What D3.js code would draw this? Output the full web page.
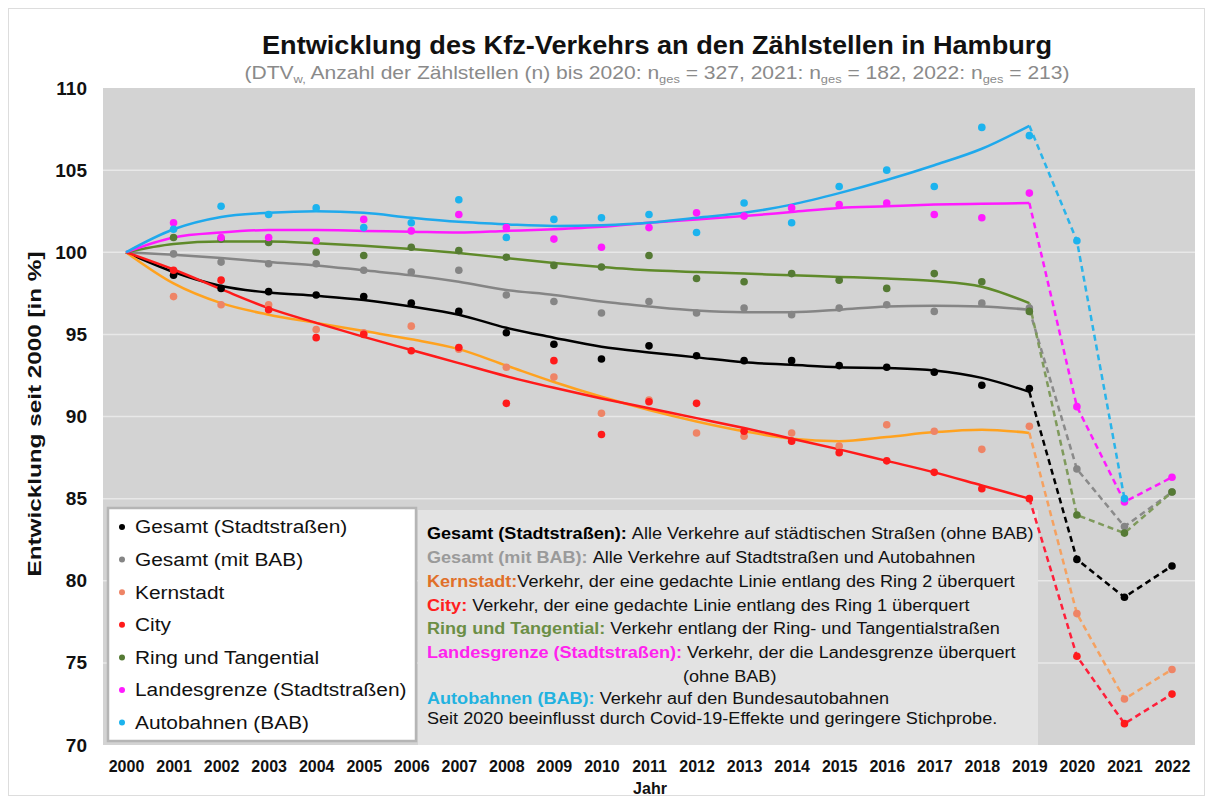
<!DOCTYPE html>
<html>
<head>
<meta charset="utf-8">
<script src="https://cdn.jsdelivr.net/npm/d3@7"></script>
<style>
  body { margin: 0; background: #fff; }
  svg text { font-family: "Liberation Sans", Arial, sans-serif; }
</style>
</head>
<body>
<div id="viz"></div>
<script>
const width = 1215;
const height = 803;

// years on the axis
const years = [2000, 2001, 2002, 2003, 2004, 2005, 2006, 2007, 2008, 2009, 2010,
  2011, 2012, 2013, 2014, 2015, 2016, 2017, 2018, 2019, 2020, 2021, 2022];
const yTicks = [70, 75, 80, 85, 90, 95, 100, 105, 110];

// measured values 2001..2022 (dots)
const pointYears = years.slice(1);
const gesamtStadt = [98.6, 97.8, 97.6, 97.4, 97.3, 96.9, 96.4, 95.1, 94.4, 93.5, 94.3, 93.7, 93.4, 93.4, 93.1, 93.0, 92.7, 91.9, 91.7, 81.3, 79.0, 80.9];
const gesamtBab = [99.9, 99.4, 99.3, 99.3, 98.9, 98.8, 98.9, 97.4, 97.0, 96.3, 97.0, 96.3, 96.6, 96.2, 96.6, 96.8, 96.4, 96.9, 96.6, 86.8, 83.3, 85.4];
const kernstadt = [97.3, 96.8, 96.8, 95.3, 95.1, 95.5, 94.1, 93.0, 92.4, 90.2, 91.0, 89.0, 88.8, 89.0, 88.2, 89.5, 89.1, 88.0, 89.4, 78.0, 72.8, 74.6];
const city = [98.9, 98.3, 96.5, 94.8, 95.0, 94.0, 94.2, 90.8, 93.4, 88.9, 90.9, 90.8, 89.1, 88.5, 87.8, 87.3, 86.6, 85.6, 85.0, 75.4, 71.3, 73.1];
const ring = [100.9, 100.8, 100.6, 100.0, 99.8, 100.3, 100.1, 99.7, 99.2, 99.1, 99.8, 98.4, 98.2, 98.7, 98.3, 97.8, 98.7, 98.2, 96.4, 84.0, 82.9, 85.4];
const landes = [101.8, 100.9, 100.9, 100.7, 102.0, 101.3, 102.3, 101.5, 100.8, 100.3, 101.5, 102.4, 102.2, 102.7, 102.9, 103.0, 102.3, 102.1, 103.6, 90.6, 84.8, 86.3];
const autobahn = [101.4, 102.8, 102.3, 102.7, 101.5, 101.8, 103.2, 100.9, 102.0, 102.1, 102.3, 101.2, 103.0, 101.8, 104.0, 105.0, 104.0, 107.6, 107.1, 100.7, 85.0, null];

// trend lines 2000..2019
const trendYears = years.slice(0, 20);
const gesamtStadtTrend = [100, 98.8, 97.95, 97.55, 97.35, 97.1, 96.7, 96.2, 95.4, 94.8, 94.25, 93.9, 93.6, 93.3, 93.15, 93.0, 92.95, 92.8, 92.35, 91.5];
const gesamtBabTrend = [100, 99.85, 99.65, 99.4, 99.2, 98.9, 98.6, 98.2, 97.7, 97.4, 97.0, 96.7, 96.45, 96.35, 96.35, 96.5, 96.7, 96.75, 96.7, 96.5];
const kernstadtTrend = [100, 98.1, 96.9, 96.2, 95.7, 95.2, 94.7, 94.1, 93.1, 92.1, 91.2, 90.4, 89.7, 89.1, 88.65, 88.5, 88.75, 89.05, 89.2, 89.0];
const cityTrend = [100, 98.95, 97.75, 96.6, 95.7, 94.85, 94.05, 93.25, 92.45, 91.75, 91.1, 90.5, 89.9, 89.3, 88.65, 88.0, 87.3, 86.6, 85.8, 85.0];
const ringTrend = [100, 100.5, 100.65, 100.65, 100.55, 100.4, 100.2, 99.95, 99.65, 99.35, 99.1, 98.9, 98.8, 98.7, 98.6, 98.5, 98.4, 98.25, 97.9, 96.9];
const landesTrend = [100, 100.9, 101.2, 101.35, 101.35, 101.3, 101.25, 101.2, 101.3, 101.4, 101.55, 101.8, 102.0, 102.2, 102.45, 102.7, 102.8, 102.9, 102.95, 103.0];
const autobahnTrend = [100, 101.4, 102.15, 102.4, 102.5, 102.4, 102.1, 101.85, 101.7, 101.6, 101.65, 101.8, 102.1, 102.4, 102.9, 103.6, 104.4, 105.3, 106.3, 107.7];

const series = [
  { label: 'Gesamt (Stadtstraßen)', pts: gesamtStadt, trend: gesamtStadtTrend, dot: '#000000', line: '#000000', dash: '#000000',
    desc: 'Alle Verkehre auf städtischen Straßen (ohne BAB)', descColor: '#000000' },
  { label: 'Gesamt (mit BAB)', pts: gesamtBab, trend: gesamtBabTrend, dot: '#858585', line: '#858585', dash: '#8a8a8a',
    desc: 'Alle Verkehre auf Stadtstraßen und Autobahnen', descColor: '#9a9a9a' },
  { label: 'Kernstadt', pts: kernstadt, trend: kernstadtTrend, dot: '#ee8466', line: '#ffa21f', dash: '#f5a160',
    desc: 'Verkehr, der eine gedachte Linie entlang des Ring 2 überquert', descColor: '#e0702a' },
  { label: 'City', pts: city, trend: cityTrend, dot: '#ff1a1a', line: '#ff1a1a', dash: '#ff1f3a',
    desc: 'Verkehr, der eine gedachte Linie entlang des Ring 1 überquert', descColor: '#ff2020' },
  { label: 'Ring und Tangential', pts: ring, trend: ringTrend, dot: '#557a34', line: '#5f8a2a', dash: '#7f9a5c',
    desc: 'Verkehr entlang der Ring- und Tangentialstraßen', descColor: '#6b8e45' },
  { label: 'Landesgrenze (Stadtstraßen)', pts: landes, trend: landesTrend, dot: '#ff1aff', line: '#ff1aff', dash: '#ff1aff',
    desc: 'Verkehr, der die Landesgrenze überquert', descColor: '#ff22ee' },
  { label: 'Autobahnen (BAB)', pts: autobahn, trend: autobahnTrend, dot: '#1cb3ee', line: '#1fa9ec', dash: '#2ab4ea',
    desc: 'Verkehr auf den Bundesautobahnen', descColor: '#22b2e0' }
];

const svg = d3.select('#viz').append('svg')
  .attr('width', width)
  .attr('height', height);

// outer frame
svg.append('rect')
  .attr('x', 8.5).attr('y', 8.5)
  .attr('width', 1196).attr('height', 787)
  .attr('fill', '#fff').attr('stroke', '#dddddd');

const x = d3.scaleLinear().domain([2000, 2022]).range([126, 1172]);
const y = d3.scaleLinear().domain([70, 110]).range([745, 88]);

// plot background
svg.append('rect')
  .attr('x', 103).attr('y', y(110))
  .attr('width', 1092).attr('height', y(70) - y(110))
  .attr('fill', '#d3d3d3');

// gridlines
svg.append('g')
  .selectAll('line')
  .data(yTicks.slice(1, -1))
  .join('line')
    .attr('x1', 103).attr('x2', 1195)
    .attr('y1', d => y(d)).attr('y2', d => y(d))
    .attr('stroke', '#eeeeee')
    .attr('stroke-width', 1.5)
    .attr('opacity', 0.8);

// title (source text is horizontally stretched)
svg.append('text')
  .attr('x', 657).attr('y', 54)
  .attr('text-anchor', 'middle')
  .attr('textLength', 790).attr('lengthAdjust', 'spacingAndGlyphs')
  .style('font-size', '25px').style('font-weight', 'bold')
  .attr('fill', '#111')
  .text('Entwicklung des Kfz-Verkehrs an den Zählstellen in Hamburg');

const subG = svg.append('g').attr('transform', 'translate(657,79) scale(1.17,1)');
const sub = subG.append('text')
  .attr('x', 0).attr('y', 0)
  .attr('text-anchor', 'middle')
  .style('font-size', '18px')
  .attr('fill', '#8a8a8a');
const subParts = [
  ['(DTV', false], ['w,', true], [' Anzahl der Zählstellen (n) bis 2020: n', false], ['ges', true],
  [' = 327, 2021: n', false], ['ges', true], [' = 182, 2022: n', false], ['ges', true], [' = 213)', false]
];
subParts.forEach(([t, isSub], i) => {
  const prevSub = i > 0 && subParts[i - 1][1];
  const ts = sub.append('tspan').text(t)
    .attr('dy', isSub ? 4 : (prevSub ? -4 : 0));
  if (isSub) ts.style('font-size', '11px');
});

// y axis
const yAxis = svg.append('g')
  .attr('transform', 'translate(103,0)')
  .call(d3.axisLeft(y).tickValues(yTicks).tickSize(0).tickPadding(16));
yAxis.select('.domain').remove();
yAxis.selectAll('text')
  .style('font-size', '19px').style('font-weight', 'bold')
  .style('font-family', '"Liberation Sans", Arial, sans-serif')
  .attr('fill', '#111');

// x axis
const xAxis = svg.append('g')
  .attr('transform', 'translate(0,' + y(70) + ')')
  .call(d3.axisBottom(x).tickValues(years).tickFormat(d3.format('d')).tickSize(0).tickPadding(16));
xAxis.select('.domain').remove();
xAxis.selectAll('text')
  .style('font-size', '16px').style('font-weight', 'bold')
  .style('font-family', '"Liberation Sans", Arial, sans-serif')
  .attr('fill', '#111');

svg.append('text')
  .attr('x', 650).attr('y', 794)
  .attr('text-anchor', 'middle')
  .style('font-size', '16px').style('font-weight', 'bold')
  .attr('fill', '#111')
  .text('Jahr');

svg.append('text')
  .attr('transform', 'translate(41,' + 414 + ') rotate(-90)')
  .attr('text-anchor', 'middle')
  .attr('textLength', 325).attr('lengthAdjust', 'spacingAndGlyphs')
  .style('font-size', '19px').style('font-weight', 'bold')
  .attr('fill', '#111')
  .text('Entwicklung seit 2000 [in %]');

// legend box
svg.append('rect')
  .attr('x', 108).attr('y', 508)
  .attr('width', 308).attr('height', 233)
  .attr('fill', '#ffffff')
  .attr('stroke', '#b5b5b5').attr('stroke-width', 2.5);

const legend = svg.append('g')
  .selectAll('g')
  .data(series)
  .join('g')
    .attr('transform', (d, i) => 'translate(122,' + (527 + i * 32.6) + ')');
legend.append('circle')
  .attr('r', 3)
  .attr('fill', d => d.dot);
legend.append('text')
  .attr('transform', 'translate(13,0) scale(1.16,1)')
  .attr('dy', '0.35em')
  .style('font-size', '18px')
  .attr('fill', '#111')
  .text(d => d.label);

// description box
svg.append('rect')
  .attr('x', 418).attr('y', 510)
  .attr('width', 620).attr('height', 235)
  .attr('fill', '#e3e3e3');

const descG = svg.append('g').attr('transform', 'translate(427,0) scale(1.13,1)');
const descY = [533, 557, 581, 605, 628, 652, 698];
series.forEach((s, i) => {
  const t = descG.append('text')
    .attr('x', 0).attr('y', descY[i])
    .attr('dy', '0.35em')
    .style('font-size', '16px')
    .attr('fill', '#111');
  t.append('tspan')
    .style('font-weight', 'bold')
    .attr('fill', s.descColor)
    .text(s.label + (i === 2 ? ':' : ': '));
  t.append('tspan').text(s.desc);
});
descG.append('text')
  .attr('x', (683 - 427) / 1.13).attr('y', 676).attr('dy', '0.35em')
  .style('font-size', '16px').attr('fill', '#111')
  .text('(ohne BAB)');
descG.append('text')
  .attr('x', 0).attr('y', 718).attr('dy', '0.35em')
  .style('font-size', '16px').attr('fill', '#111')
  .text('Seit 2020 beeinflusst durch Covid-19-Effekte und geringere Stichprobe.');

// trend lines
const trendLine = d3.line()
  .x((d, i) => x(trendYears[i]))
  .y(d => y(d))
  .curve(d3.curveMonotoneX);

const dashLine = d3.line()
  .defined(d => d[1] != null)
  .x(d => x(d[0]))
  .y(d => y(d[1]));

const gSeries = svg.append('g');

series.forEach(s => {
  gSeries.append('path')
    .attr('d', trendLine(s.trend))
    .attr('fill', 'none')
    .attr('stroke', s.line)
    .attr('stroke-width', 2.5);
});

series.forEach(s => {
  const dashData = [[2019, s.trend[19]]]
    .concat(pointYears.slice(19).map((yr, i) => [yr, s.pts[19 + i]]))
    .filter(d => d[1] != null);
  gSeries.append('path')
    .attr('d', dashLine(dashData))
    .attr('fill', 'none')
    .attr('stroke', s.dash)
    .attr('stroke-width', 2.5)
    .attr('stroke-dasharray', '6,4');
});

series.forEach(s => {
  gSeries.append('g')
    .selectAll('circle')
    .data(pointYears.map((yr, i) => [yr, s.pts[i]]).filter(d => d[1] != null))
    .join('circle')
      .attr('cx', d => x(d[0]))
      .attr('cy', d => y(d[1]))
      .attr('r', 3.8)
      .attr('fill', s.dot);
});
</script>
</body>
</html>
